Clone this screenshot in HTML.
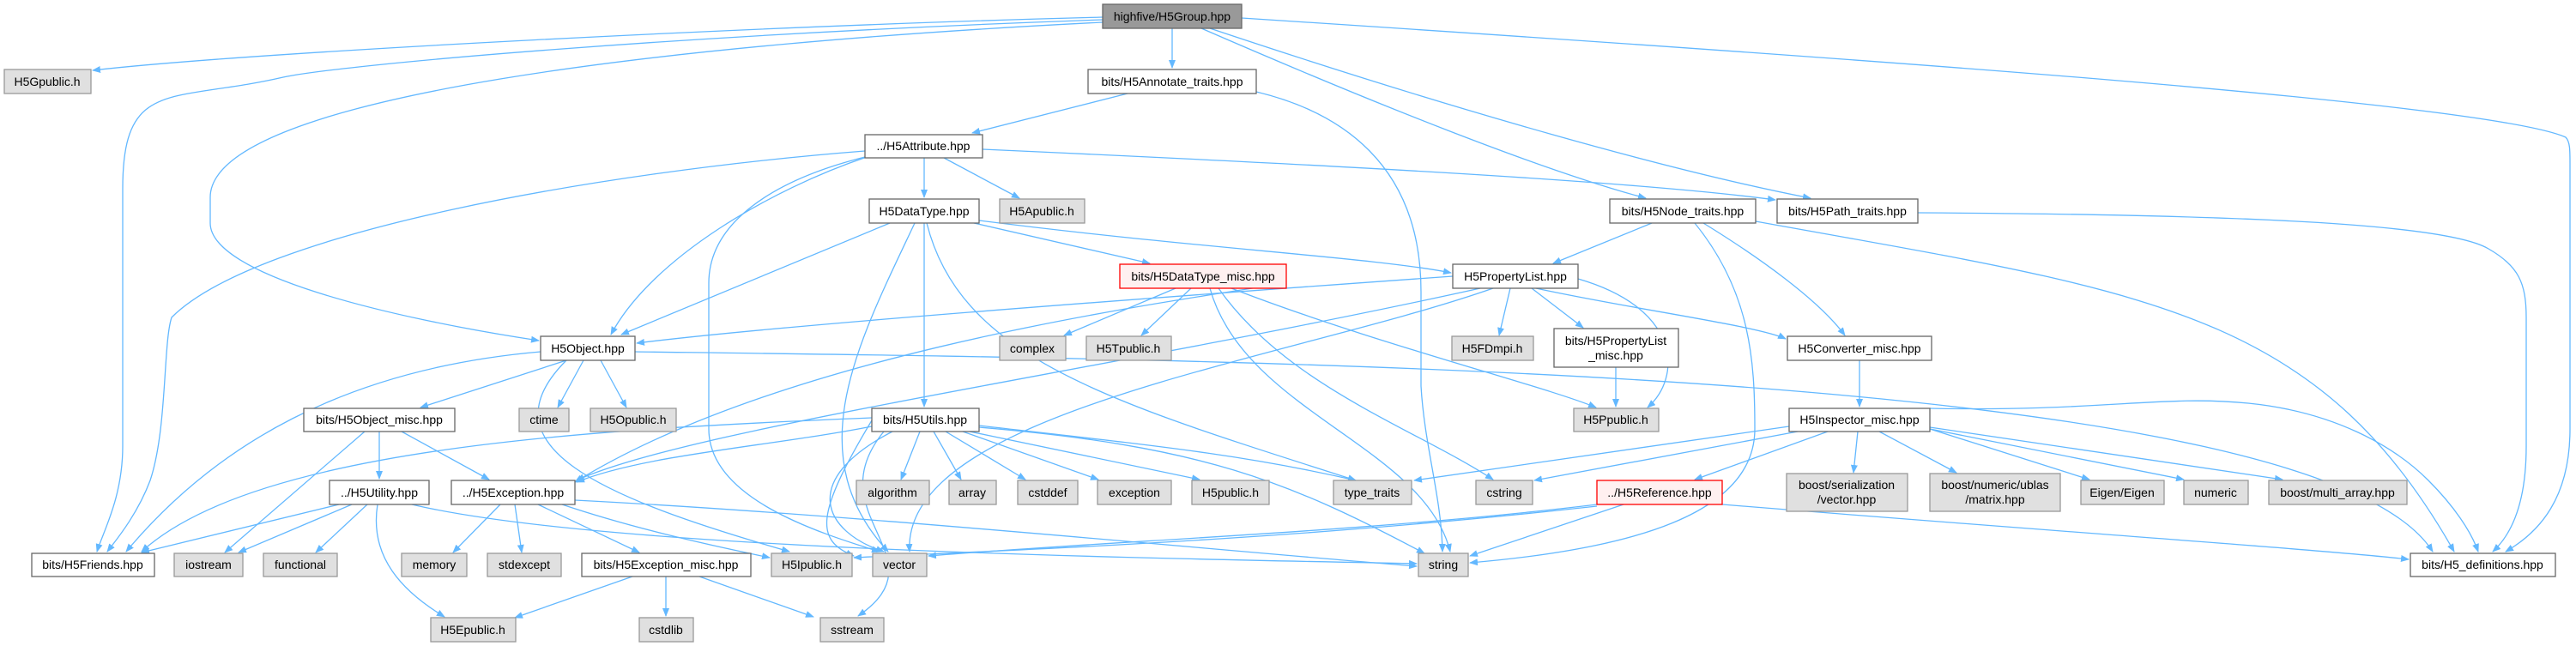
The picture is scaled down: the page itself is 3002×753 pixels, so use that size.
<!DOCTYPE html>
<html><head><meta charset="utf-8">
<style>
html,body{margin:0;padding:0;background:#fff;}
svg{display:block;}
text{font-family:"Liberation Sans",sans-serif;font-size:14px;fill:#000;text-anchor:middle;}
.e{fill:none;stroke:#63b8ff;stroke-width:1.3;}
.w{fill:#fff;stroke:#666;stroke-width:1.3;}
.g{fill:#e0e0e0;stroke:#999;stroke-width:1.3;}
.r{fill:#fff0f0;stroke:#f00;stroke-width:1.3;}
.root{fill:#999;stroke:#666;stroke-width:1.3;}
</style></head><body>
<svg width="3002" height="753" viewBox="0 0 3002 753" xmlns="http://www.w3.org/2000/svg">
<defs><marker id="a" markerWidth="10" markerHeight="8" refX="9" refY="4" orient="auto" markerUnits="userSpaceOnUse"><path d="M0,0 L10,4 L0,8 z" fill="#63b8ff"/></marker></defs>
<g class="e" marker-end="url(#a)">
<path d="M1285,20 C900,30 300,60 108,82"/>
<path d="M1285,23 C800,40 400,75 330,90 C200,120 143,90 143,220 L143,520 C143,580 120,620 113,643"/>
<path d="M1285,26 C800,50 245,110 245,230 L245,260 C245,320 450,370 628,397"/>
<path d="M1366,33 L1366,79"/>
<path d="M1400,33 C1600,120 1800,200 1918,231"/>
<path d="M1410,33 C1700,130 1950,200 2110,231"/>
<path d="M1447,21 C2200,70 2900,120 2990,160 C2995,165 2995,175 2995,190 L2995,500 C2995,580 2960,620 2920,643"/>
<path d="M1314,109 L1133,155"/>
<path d="M1464,107 C1560,130 1656,190 1656,340 L1656,450 C1660,520 1680,580 1681,643"/>
<path d="M1077,184 L1077,230"/>
<path d="M1100,184 L1188,231"/>
<path d="M1145,174 C1500,190 1900,210 2069,233"/>
<path d="M1008,176 C700,200 300,270 200,370 C190,400 195,500 175,560 C160,600 135,630 125,643"/>
<path d="M1008,183 C900,210 826,260 826,330 L826,500 C826,580 950,620 1025,643"/>
<path d="M1010,183 C900,220 760,300 712,390"/>
<path d="M1037,260 L724,390"/>
<path d="M1077,260 L1077,474"/>
<path d="M1066,260 C1000,400 930,530 1035,643"/>
<path d="M1080,260 C1120,420 1300,470 1580,560"/>
<path d="M1135,260 L1340,307"/>
<path d="M1141,257 C1400,290 1600,300 1691,318"/>
<path d="M1370,336 L1240,391"/>
<path d="M1388,336 L1330,391"/>
<path d="M1410,336 C1450,480 1660,520 1690,643"/>
<path d="M1420,336 C1500,450 1650,500 1740,559"/>
<path d="M1435,336 C1600,400 1800,450 1860,475"/>
<path d="M1499,330 C1300,360 900,420 670,562"/>
<path d="M1925,260 L1810,307"/>
<path d="M1985,260 C2050,300 2120,350 2150,391"/>
<path d="M1975,260 C2040,340 2045,420 2045,500 C2045,600 1900,640 1713,656"/>
<path d="M2046,258 C2500,340 2700,360 2860,643"/>
<path d="M2235,248 C2600,250 2850,260 2900,290 C2935,310 2944,330 2944,370 L2944,520 C2944,580 2930,620 2905,643"/>
<path d="M1693,322 C1300,350 900,380 742,400"/>
<path d="M1760,336 L1747,391"/>
<path d="M1785,336 L1845,382"/>
<path d="M1839,325 C1960,360 1960,440 1920,475"/>
<path d="M1725,336 C1300,430 800,500 672,560"/>
<path d="M1740,336 C1500,420 1050,480 1060,643"/>
<path d="M1790,336 C1900,360 2050,380 2081,395"/>
<path d="M1883,428 L1883,474"/>
<path d="M660,420 L490,475"/>
<path d="M680,420 L650,475"/>
<path d="M700,420 L730,475"/>
<path d="M630,410 C400,430 250,520 147,643"/>
<path d="M660,420 C560,520 700,580 920,643"/>
<path d="M740,410 C1500,420 2700,430 2835,643"/>
<path d="M442,503 L442,558"/>
<path d="M468,503 L570,559"/>
<path d="M425,503 L262,644"/>
<path d="M395,588 L165,644"/>
<path d="M410,588 L278,644"/>
<path d="M428,588 L368,644"/>
<path d="M440,588 C430,650 470,690 518,719"/>
<path d="M480,588 C700,640 1300,650 1651,657"/>
<path d="M583,588 L528,644"/>
<path d="M600,588 L608,644"/>
<path d="M627,588 L745,644"/>
<path d="M655,588 C750,620 850,640 897,650"/>
<path d="M670,583 C1000,600 1400,640 1651,660"/>
<path d="M737,672 L600,720"/>
<path d="M776,672 L776,718"/>
<path d="M815,672 L948,719"/>
<path d="M1072,503 L1050,559"/>
<path d="M1088,503 L1120,559"/>
<path d="M1102,503 L1195,559"/>
<path d="M1122,503 L1280,559"/>
<path d="M1130,503 L1398,559"/>
<path d="M1141,496 C1350,520 1450,530 1580,560"/>
<path d="M1141,498 C1400,520 1500,560 1660,645"/>
<path d="M1040,503 C930,560 960,620 1030,643"/>
<path d="M1030,503 C950,600 1100,650 1000,718"/>
<path d="M1016,497 C900,520 750,530 672,562"/>
<path d="M1016,487 C700,500 300,520 165,643"/>
<path d="M1016,490 C950,600 950,630 995,648"/>
<path d="M2167,420 L2167,474"/>
<path d="M2085,497 L1648,560"/>
<path d="M2095,503 L1788,560"/>
<path d="M2130,503 L1975,559"/>
<path d="M2165,503 L2160,551"/>
<path d="M2190,503 L2280,551"/>
<path d="M2249,500 L2435,559"/>
<path d="M2249,500 L2545,559"/>
<path d="M2249,498 L2660,559"/>
<path d="M2249,476 C2450,480 2520,460 2620,470 C2720,480 2790,520 2830,560 C2860,590 2880,620 2888,643"/>
<path d="M1861,588 C1600,620 1300,630 1082,648"/>
<path d="M1892,588 L1713,648"/>
<path d="M2007,588 C2400,620 2700,640 2807,652"/>
<path d="M1861,590 C1500,630 1200,640 995,650"/>
</g>
<rect class="root" x="1285" y="5" width="162" height="28"/><text x="1366" y="24">highfive/H5Group.hpp</text>
<rect class="g" x="5" y="81" width="101" height="28"/><text x="55" y="100">H5Gpublic.h</text>
<rect class="w" x="1268" y="81" width="196" height="28"/><text x="1366" y="100">bits/H5Annotate_traits.hpp</text>
<rect class="w" x="1008" y="157" width="137" height="27"/><text x="1076" y="175">../H5Attribute.hpp</text>
<rect class="w" x="1013" y="232" width="128" height="28"/><text x="1077" y="251">H5DataType.hpp</text>
<rect class="g" x="1165" y="232" width="99" height="28"/><text x="1214" y="251">H5Apublic.h</text>
<rect class="w" x="1876" y="232" width="170" height="28"/><text x="1961" y="251">bits/H5Node_traits.hpp</text>
<rect class="w" x="2071" y="232" width="164" height="28"/><text x="2153" y="251">bits/H5Path_traits.hpp</text>
<rect class="r" x="1305" y="308" width="194" height="28"/><text x="1402" y="327">bits/H5DataType_misc.hpp</text>
<rect class="w" x="1693" y="308" width="146" height="28"/><text x="1766" y="327">H5PropertyList.hpp</text>
<rect class="w" x="630" y="392" width="110" height="28"/><text x="685" y="411">H5Object.hpp</text>
<rect class="g" x="1165" y="392" width="77" height="28"/><text x="1203" y="411">complex</text>
<rect class="g" x="1266" y="392" width="99" height="28"/><text x="1315" y="411">H5Tpublic.h</text>
<rect class="g" x="1692" y="392" width="95" height="28"/><text x="1739" y="411">H5FDmpi.h</text>
<rect class="w" x="1811" y="383" width="145" height="45"/><text x="1883" y="402">bits/H5PropertyList</text><text x="1883" y="419">_misc.hpp</text>
<rect class="w" x="2083" y="392" width="168" height="28"/><text x="2167" y="411">H5Converter_misc.hpp</text>
<rect class="w" x="354" y="476" width="176" height="27"/><text x="442" y="494">bits/H5Object_misc.hpp</text>
<rect class="g" x="605" y="476" width="58" height="27"/><text x="634" y="494">ctime</text>
<rect class="g" x="688" y="476" width="100" height="27"/><text x="738" y="494">H5Opublic.h</text>
<rect class="w" x="1016" y="476" width="125" height="27"/><text x="1078" y="494">bits/H5Utils.hpp</text>
<rect class="g" x="1834" y="476" width="99" height="27"/><text x="1883" y="494">H5Ppublic.h</text>
<rect class="w" x="2085" y="476" width="164" height="27"/><text x="2167" y="494">H5Inspector_misc.hpp</text>
<rect class="w" x="384" y="560" width="116" height="28"/><text x="442" y="579">../H5Utility.hpp</text>
<rect class="w" x="526" y="560" width="144" height="28"/><text x="598" y="579">../H5Exception.hpp</text>
<rect class="g" x="998" y="560" width="85" height="28"/><text x="1040" y="579">algorithm</text>
<rect class="g" x="1106" y="560" width="55" height="28"/><text x="1133" y="579">array</text>
<rect class="g" x="1186" y="560" width="70" height="28"/><text x="1221" y="579">cstddef</text>
<rect class="g" x="1279" y="560" width="86" height="28"/><text x="1322" y="579">exception</text>
<rect class="g" x="1389" y="560" width="90" height="28"/><text x="1434" y="579">H5public.h</text>
<rect class="g" x="1554" y="560" width="91" height="28"/><text x="1599" y="579">type_traits</text>
<rect class="g" x="1720" y="560" width="66" height="28"/><text x="1753" y="579">cstring</text>
<rect class="r" x="1861" y="560" width="146" height="28"/><text x="1934" y="579">../H5Reference.hpp</text>
<rect class="g" x="2082" y="552" width="141" height="44"/><text x="2152" y="570">boost/serialization</text><text x="2152" y="587">/vector.hpp</text>
<rect class="g" x="2249" y="552" width="152" height="44"/><text x="2325" y="570">boost/numeric/ublas</text><text x="2325" y="587">/matrix.hpp</text>
<rect class="g" x="2425" y="560" width="97" height="28"/><text x="2473" y="579">Eigen/Eigen</text>
<rect class="g" x="2545" y="560" width="75" height="28"/><text x="2582" y="579">numeric</text>
<rect class="g" x="2644" y="560" width="161" height="28"/><text x="2724" y="579">boost/multi_array.hpp</text>
<rect class="w" x="37" y="645" width="143" height="27"/><text x="108" y="663">bits/H5Friends.hpp</text>
<rect class="g" x="203" y="645" width="80" height="27"/><text x="243" y="663">iostream</text>
<rect class="g" x="307" y="645" width="86" height="27"/><text x="350" y="663">functional</text>
<rect class="g" x="468" y="645" width="76" height="27"/><text x="506" y="663">memory</text>
<rect class="g" x="568" y="645" width="86" height="27"/><text x="611" y="663">stdexcept</text>
<rect class="w" x="678" y="645" width="197" height="27"/><text x="776" y="663">bits/H5Exception_misc.hpp</text>
<rect class="g" x="899" y="645" width="94" height="27"/><text x="946" y="663">H5Ipublic.h</text>
<rect class="g" x="1017" y="645" width="63" height="27"/><text x="1048" y="663">vector</text>
<rect class="g" x="1653" y="645" width="58" height="27"/><text x="1682" y="663">string</text>
<rect class="w" x="2809" y="645" width="169" height="27"/><text x="2893" y="663">bits/H5_definitions.hpp</text>
<rect class="g" x="502" y="720" width="99" height="28"/><text x="551" y="739">H5Epublic.h</text>
<rect class="g" x="745" y="720" width="63" height="28"/><text x="776" y="739">cstdlib</text>
<rect class="g" x="956" y="720" width="74" height="28"/><text x="993" y="739">sstream</text>
</svg>
</body></html>
